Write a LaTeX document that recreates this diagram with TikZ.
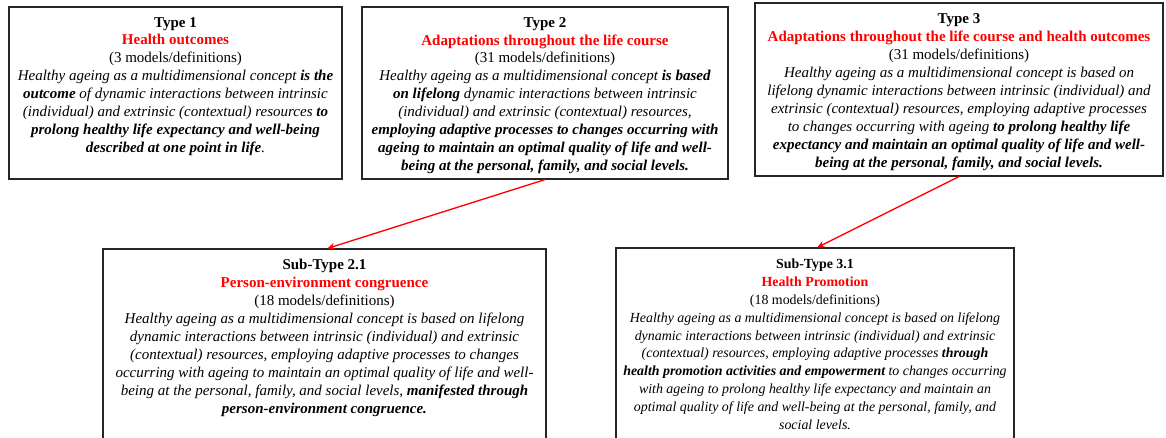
\documentclass[tikz,border=0pt]{standalone}
\usepackage{fontspec}
\setmainfont{Liberation Serif}
\usetikzlibrary{arrows.meta,fit}
\tikzset{
  typebox/.style={draw=black!85, line width=0.8pt, inner sep=0pt},
  typetext/.style={anchor=north, align=center, inner sep=0pt, font=\fontsize{10.2}{12.2}\selectfont},
  subarrow/.style={draw=red, line width=0.9pt, -{Stealth[length=5pt,width=4.5pt]}}
}
\newcommand{\typetitle}[1]{\textcolor{red}{\textbf{#1}}}

\begin{document}
\begin{tikzpicture}[x=0.68pt,y=-0.68pt]
		%%%%% START %%%%%
		\useasboundingbox (0,0) rectangle (1166,437);
		
		% top row
		\node[typebox, fit={(9,7) (342,179)}] (t1) {};
		\node[typetext] (t1txt) at ([yshift=-7.1pt]t1.north) {\textbf{Type 1}\\
			\typetitle{Health outcomes}\\
			(3 models/definitions)\\
			\textit{Healthy ageing as a multidimensional concept \textbf{is the}}\\
			\textit{\textbf{outcome} of dynamic interactions between intrinsic}\\
			\textit{(individual) and extrinsic (contextual) resources \textbf{to}}\\
			\textit{\textbf{prolong healthy life expectancy and well-being}}\\
			\textit{\textbf{described at one point in life}.}};
		
		\node[typebox, fit={(362,7) (728,179)}] (t2) {};
		\node[typetext] (t2txt) at ([yshift=-7.1pt]t2.north) {\textbf{Type 2}\\
			\typetitle{Adaptations throughout the life course}\\
			(31 models/definitions)\\
			\textit{Healthy ageing as a multidimensional concept \textbf{is based}}\\
			\textit{\textbf{on lifelong} dynamic interactions between intrinsic}\\
			\textit{(individual) and extrinsic (contextual) resources,}\\
			\textit{\textbf{employing adaptive processes to changes occurring with}}\\
			\textit{\textbf{ageing to maintain an optimal quality of life and well-}}\\
			\textit{\textbf{being at the personal, family, and social levels.}}};
		
		\node[typebox, fit={(755,3) (1163,176)}] (t3) {};
		\node[typetext] (t3txt) at ([yshift=-7.4pt]t3.north) {\textbf{Type 3}\\
			\typetitle{Adaptations throughout the life course and health outcomes}\\
			(31 models/definitions)\\
			\textit{Healthy ageing as a multidimensional concept is based on}\\
			\textit{lifelong dynamic interactions between intrinsic (individual) and}\\
			\textit{extrinsic (contextual) resources, employing adaptive processes}\\
			\textit{to changes occurring with ageing \textbf{to prolong healthy life}}\\
			\textit{\textbf{expectancy and maintain an optimal quality of life and well-}}\\
			\textit{\textbf{being at the personal, family, and social levels.}}};
		
		% bottom row
		\node[typebox, fit={(103,249) (546,450)}] (s21) {};
		\node[typetext] (s21txt) at ([yshift=-7.2pt]s21.north) {\textbf{Sub-Type 2.1}\\
			\typetitle{Person-environment congruence}\\
			(18 models/definitions)\\
			\textit{Healthy ageing as a multidimensional concept is based on lifelong}\\
			\textit{dynamic interactions between intrinsic (individual) and extrinsic}\\
			\textit{(contextual) resources, employing adaptive processes to changes}\\
			\textit{occurring with ageing to maintain an optimal quality of life and well-}\\
			\textit{being at the personal, family, and social levels, \textbf{manifested through}}\\
			\textit{\textbf{person-environment congruence.}}};
		
		\node[typebox, fit={(616,248) (1014,450)}] (s31) {};
		\node[typetext, font=\fontsize{9.45}{12.2}\selectfont] (s31txt) at ([yshift=-7.4pt]s31.north) {\textbf{Sub-Type 3.1}\\
			\typetitle{Health Promotion}\\
			(18 models/definitions)\\
			\textit{Healthy ageing as a multidimensional concept is based on lifelong}\\
			\textit{dynamic interactions between intrinsic (individual) and extrinsic}\\
			\textit{(contextual) resources, employing adaptive processes \textbf{through}}\\
			\textit{\textbf{health promotion activities and empowerment} to changes occurring}\\
			\textit{with ageing to prolong healthy life expectancy and maintain an}\\
			\textit{optimal quality of life and well-being at the personal, family, and}\\
			\textit{social levels.}};
		
		% arrows
		\draw[subarrow] (t2.south) -- ([xshift=2pt]s21.north);
		\draw[subarrow] (t3.south) -- ([xshift=1.5pt]s31.north);
		%%%%% END %%%%%
\end{tikzpicture}
\end{document}
